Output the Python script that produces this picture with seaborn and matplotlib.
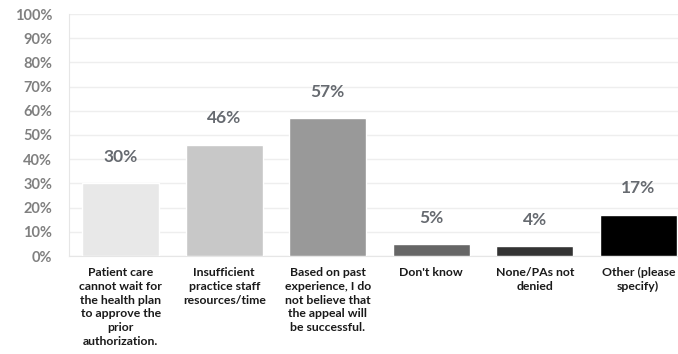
import matplotlib
matplotlib.use("Agg")
import matplotlib.pyplot as plt
import seaborn as sns
import pandas as pd

categories = [
    "Patient care\ncannot wait for\nthe health plan\nto approve the\nprior\nauthorization.",
    "Insufficient\npractice staff\nresources/time",
    "Based on past\nexperience, I do\nnot believe that\nthe appeal will\nbe successful.",
    "Don't know",
    "None/PAs not\ndenied",
    "Other (please\nspecify)",
]
values = [30, 46, 57, 5, 4, 17]
value_labels = ["30%", "46%", "57%", "5%", "4%", "17%"]
colors = ["#e8e8e8", "#c8c8c8", "#999999", "#666666", "#333333", "#000000"]
yticks = [0, 10, 20, 30, 40, 50, 60, 70, 80, 90, 100]

sns.set_style("white")
plt.rcParams["font.family"] = ["Lato", "DejaVu Sans"]

df = pd.DataFrame({"cat": categories, "val": values})

fig = plt.figure(figsize=(6.78, 3.54), dpi=100)
ax = fig.add_axes([69 / 678, 1 - 256 / 354, 621 / 678, 242 / 354])

sns.barplot(data=df, x="cat", y="val", hue="cat", palette=colors,
            legend=False, width=0.74, ax=ax, saturation=1, zorder=3)

ax.set_ylim(0, 100)
ax.set_xlim(-0.5, 5.5)
ax.set_yticks(yticks)
ax.set_yticklabels([f"{t}%" for t in yticks], color="#808080",
                   fontsize=10.5, fontweight="bold")
ax.tick_params(axis="y", length=0, pad=12)
ax.tick_params(axis="x", length=0, pad=8)
for lab in ax.get_xticklabels():
    lab.set_fontsize(8.8)
    lab.set_fontweight("bold")
    lab.set_color("#1a1a1a")
    lab.set_linespacing(1.3)
    lab.set_verticalalignment("top")
ax.set_xlabel("")
ax.set_ylabel("")
ax.grid(axis="y", color="#eeeeee", linewidth=1, zorder=0)
ax.set_axisbelow(True)
for s in ["top", "right"]:
    ax.spines[s].set_visible(False)
ax.spines["left"].set_color("#e6e6e6")
ax.spines["bottom"].set_color("#e6e6e6")

for i, (v, t) in enumerate(zip(values, value_labels)):
    ax.annotate(t, (i, v), xytext=(0, 19), textcoords="offset points",
                ha="center", va="center", fontsize=12.5, fontweight="bold",
                color="#666a70")

fig.savefig("out.png", dpi=100)
